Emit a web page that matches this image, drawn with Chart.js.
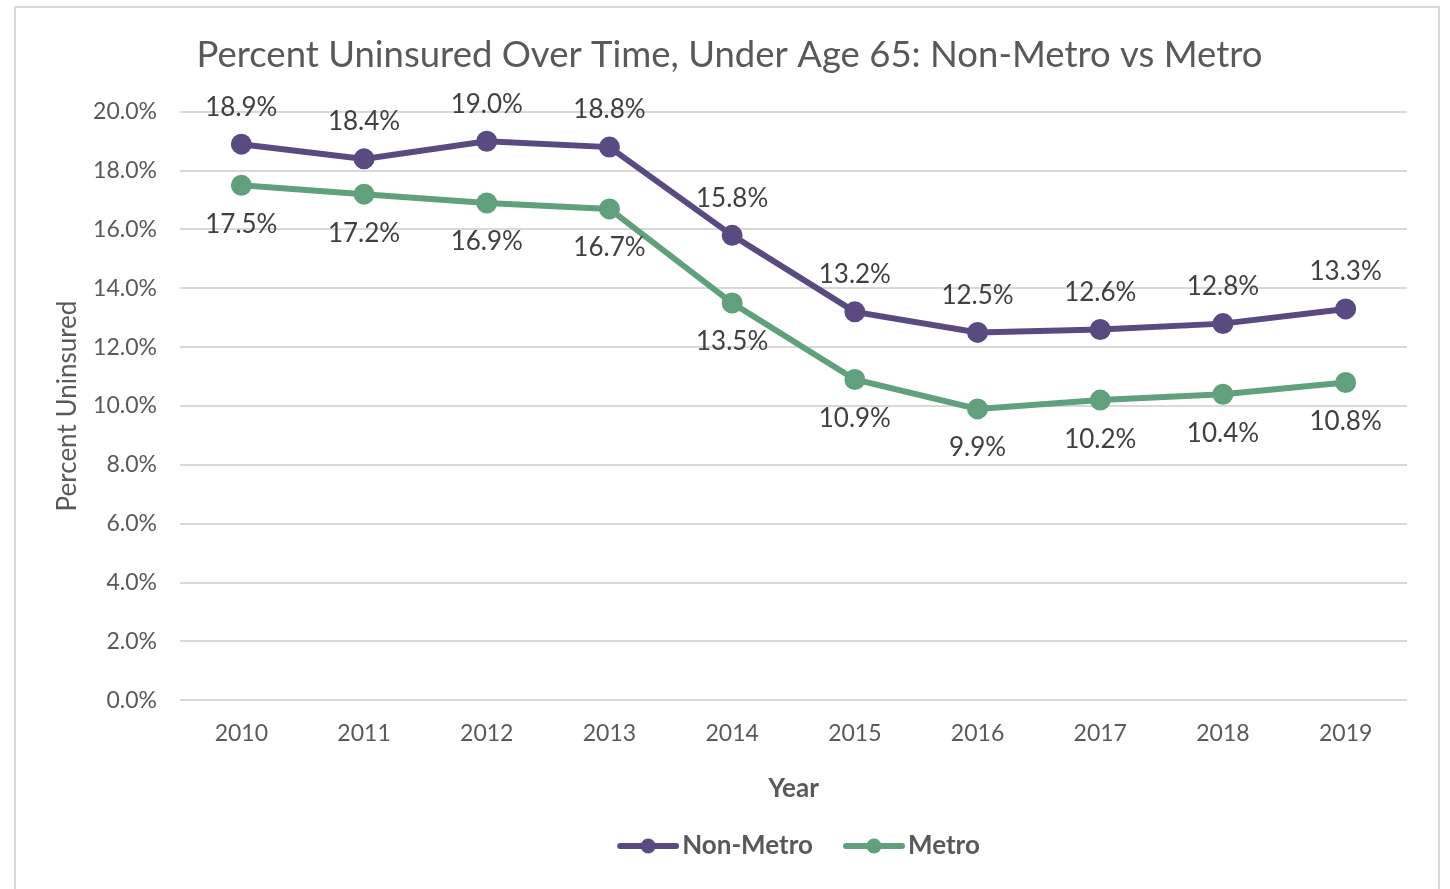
<!DOCTYPE html>
<html>
<head>
<meta charset="utf-8">
<script src="https://cdn.jsdelivr.net/npm/chart.js@4"></script>
<style>
  html, body { margin: 0; padding: 0; background: #fff; }
  #frame { position: absolute; left: 14px; top: 6px; width: 1422px; height: 900px; border: 2px solid #d9d9d9; }
  #wrap { position: absolute; left: 0; top: 0; width: 1450px; height: 889px; }
</style>
</head>
<body>
<div id="frame"></div>
<div id="wrap"><canvas id="chart" width="1450" height="889"></canvas></div>
<script>
const years = ['2010', '2011', '2012', '2013', '2014', '2015', '2016', '2017', '2018', '2019'];
const nonMetro = [18.9, 18.4, 19.0, 18.8, 15.8, 13.2, 12.5, 12.6, 12.8, 13.3];
const metro = [17.5, 17.2, 16.9, 16.7, 13.5, 10.9, 9.9, 10.2, 10.4, 10.8];

const purple = '#594A82';
const green = '#61A07D';
const textColor = '#595959';
const fontFamily = 'Lato, "Open Sans", sans-serif';

// line+dot icon for the legend, drawn in the right part of the canvas
// so that it sits close to its text and leaves a gap to the previous item
function legendIcon(color) {
  const c = document.createElement('canvas');
  c.width = 82;
  c.height = 16;
  const g = c.getContext('2d');
  g.strokeStyle = color;
  g.lineWidth = 6;
  g.lineCap = 'round';
  g.beginPath();
  g.moveTo(23, 8);
  g.lineTo(79, 8);
  g.stroke();
  g.fillStyle = color;
  g.beginPath();
  g.arc(51, 8, 7.5, 0, Math.PI * 2);
  g.fill();
  return c;
}
const icons = [legendIcon(purple), legendIcon(green)];

// value labels: first series above the points, second below
const valueLabels = {
  id: 'valueLabels',
  afterDatasetsDraw(chart) {
    const ctx = chart.ctx;
    ctx.save();
    ctx.font = '26px ' + fontFamily;
    ctx.fillStyle = '#404040';
    ctx.textAlign = 'center';
    ctx.textBaseline = 'middle';
    chart.data.datasets.forEach((ds, i) => {
      const meta = chart.getDatasetMeta(i);
      meta.data.forEach((pt, j) => {
        const dy = i === 0 ? -37 : 39;
        ctx.fillText(ds.data[j].toFixed(1) + '%', pt.x, pt.y + dy);
      });
    });
    ctx.restore();
  }
};

// center the legend under the plot area instead of the whole canvas
const legendUnderPlot = {
  id: 'legendUnderPlot',
  afterLayout(chart) {
    if (chart.legend) {
      chart.legend.left = chart.chartArea.left;
      chart.legend.right = chart.chartArea.right;
    }
  }
};

new Chart(document.getElementById('chart'), {
  type: 'line',
  data: {
    labels: years,
    datasets: [
      {
        label: 'Non-Metro',
        data: nonMetro,
        borderColor: purple,
        backgroundColor: purple,
        borderWidth: 6,
        pointRadius: 7.5,
        pointStyle: 'circle',
        tension: 0
      },
      {
        label: 'Metro',
        data: metro,
        borderColor: green,
        backgroundColor: green,
        borderWidth: 6,
        pointRadius: 7.5,
        pointStyle: 'circle',
        tension: 0
      }
    ]
  },
  options: {
    responsive: false,
    animation: false,
    layout: { padding: { left: 52, right: 43, top: 0, bottom: 20 } },
    plugins: {
      title: {
        display: true,
        text: 'Percent Uninsured Over Time, Under Age 65: Non-Metro vs Metro',
        color: textColor,
        font: { family: fontFamily, size: 36.5, weight: 'normal' },
        padding: { top: 33, bottom: 35 }
      },
      legend: {
        position: 'bottom',
        labels: {
          usePointStyle: true,
          pointStyleWidth: 62,
          boxHeight: 16,
          color: textColor,
          font: { family: fontFamily, size: 26, weight: 'bold' },
          padding: 20,
          generateLabels(chart) {
            const items = Chart.defaults.plugins.legend.labels.generateLabels(chart);
            items.forEach((it, i) => { it.pointStyle = icons[i]; });
            return items;
          }
        }
      },
      tooltip: { enabled: false }
    },
    scales: {
      x: {
        offset: true,
        grid: { display: false, drawTicks: false },
        border: { display: false },
        ticks: { color: textColor, font: { family: fontFamily, size: 23 }, padding: 20 },
        title: {
          display: true,
          text: 'Year',
          color: textColor,
          font: { family: fontFamily, size: 26, weight: 'bold' },
          padding: { top: 5, bottom: 9 }
        }
      },
      y: {
        min: 0,
        max: 20,
        afterFit(scale) { scale.width = 128; },
        grid: { color: '#d9d9d9', lineWidth: 2, drawTicks: false },
        border: { display: false },
        ticks: {
          stepSize: 2,
          color: textColor,
          font: { family: fontFamily, size: 23 },
          padding: 23,
          callback: v => v.toFixed(1) + '%'
        },
        title: {
          display: true,
          text: 'Percent Uninsured',
          color: textColor,
          font: { family: fontFamily, size: 26 },
          padding: { top: 0, bottom: 0 }
        }
      }
    }
  },
  plugins: [valueLabels, legendUnderPlot]
});
</script>
</body>
</html>
